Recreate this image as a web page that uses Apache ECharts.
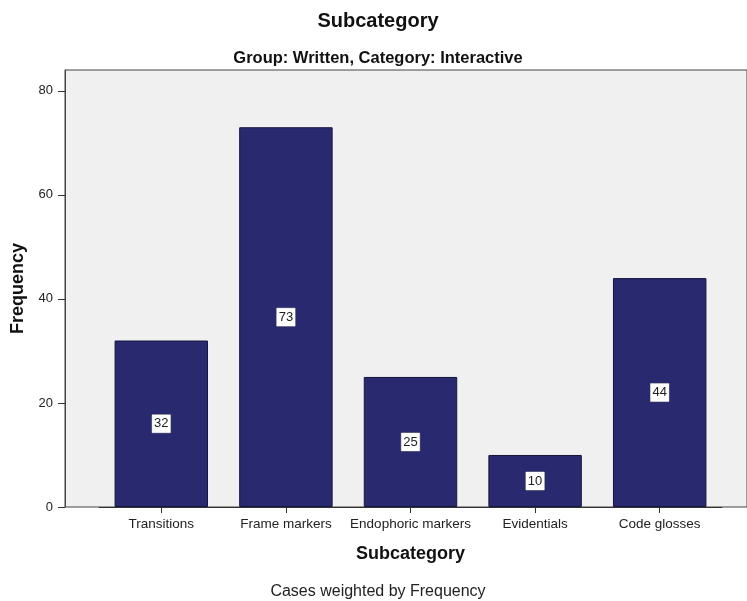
<!DOCTYPE html>
<html>
<head>
<meta charset="utf-8">
<script src="https://cdn.jsdelivr.net/npm/echarts@6/dist/echarts.min.js"></script>
<style>html,body{margin:0;padding:0;background:#fff;}#c{width:747px;height:601px;}</style>
</head>
<body>
<div id="c"></div>
<script>
const categories = ['Transitions', 'Frame markers', 'Endophoric markers', 'Evidentials', 'Code glosses'];
const frequencies = [32, 73, 25, 10, 44];
const yTicks = [0, 20, 40, 60, 80];
const titleText = 'Subcategory';
const subtitleText = 'Group: Written, Category: Interactive';
const footerText = 'Cases weighted by Frequency';

const font = 'Arial, "Liberation Sans", sans-serif';
const chart = echarts.init(document.getElementById('c'));
chart.setOption({
  animation: false,
  backgroundColor: '#ffffff',
  title: [
    { text: titleText, left: 373, textAlign: 'center', top: 6, textStyle: { fontFamily: font, fontSize: 20, fontWeight: 'bold', color: '#111' } },
    { text: subtitleText, left: 373, textAlign: 'center', top: 45, textStyle: { fontFamily: font, fontSize: 16.5, fontWeight: 'bold', color: '#111' } },
    { text: footerText, left: 373, textAlign: 'center', top: 579, textStyle: { fontFamily: font, fontSize: 16, fontWeight: 'normal', color: '#222' } }
  ],
  grid: [
    { left: 65, top: 70, right: -20, bottom: 94, show: true, backgroundColor: '#f0f0f0', borderColor: '#444', borderWidth: 1 },
    { left: 99, top: 70, right: 25, bottom: 94 }
  ],
  xAxis: [
    { gridIndex: 0, type: 'value', min: 0, max: 1, show: false },
    {
      gridIndex: 1, type: 'category', data: categories,
      axisLine: { show: true, lineStyle: { color: '#333', width: 1 } },
      axisTick: { show: true, alignWithLabel: true, length: 6, lineStyle: { color: '#333' } },
      axisLabel: { fontFamily: font, fontSize: 13.5, color: '#222', margin: 10, interval: 0 },
      name: titleText, nameLocation: 'middle', nameGap: 38,
      nameTextStyle: { fontFamily: font, fontSize: 18, fontWeight: 'bold', color: '#111' }
    }
  ],
  yAxis: [
    {
      gridIndex: 0, type: 'value', min: 0, max: 84,
      axisLine: { show: true, lineStyle: { color: '#444' } },
      axisTick: { show: true, length: 7, customValues: yTicks, lineStyle: { color: '#333' } },
      axisLabel: { fontFamily: font, fontSize: 13, color: '#222', margin: 12, customValues: yTicks },
      splitLine: { show: false },
      name: 'Frequency', nameLocation: 'middle', nameGap: 38, nameRotate: 90,
      nameTextStyle: { fontFamily: font, fontSize: 18, fontWeight: 'bold', color: '#111' }
    },
    { gridIndex: 1, type: 'value', min: 0, max: 84, show: false }
  ],
  series: [{
    type: 'bar', xAxisIndex: 1, yAxisIndex: 1,
    data: frequencies, barWidth: '75%',
    itemStyle: { color: '#28296e', borderColor: '#15163f', borderWidth: 1 },
    label: {
      show: true, position: 'inside', fontFamily: font, fontSize: 13, color: '#222',
      backgroundColor: '#ffffff', padding: [3, 2, 2, 2], borderColor: '#888', borderWidth: 0.5
    }
  }]
});
</script>
</body>
</html>
